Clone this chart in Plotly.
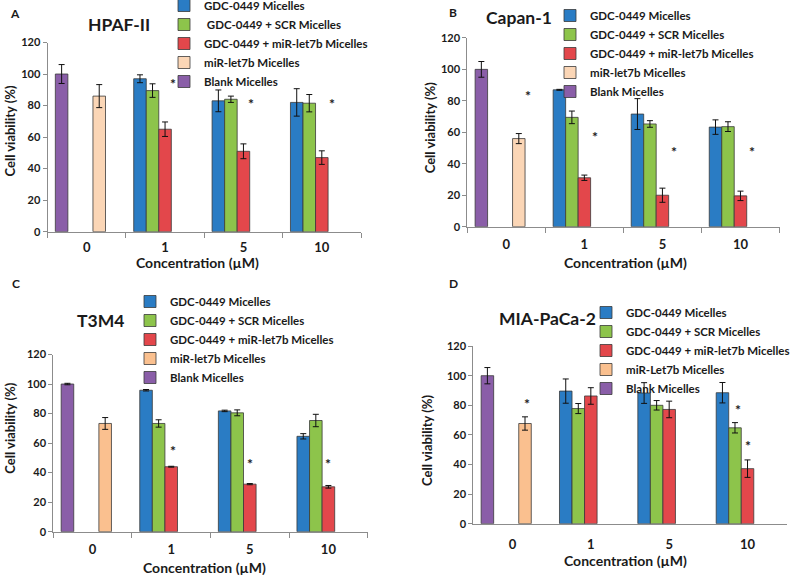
import plotly.graph_objects as go

# ---------------- data ----------------
categories = ["0", "1", "5", "10"]
names_std = ["GDC-0449 Micelles", "GDC-0449 + SCR Micelles",
             "GDC-0449 + miR-let7b Micelles", "miR-let7b Micelles", "Blank Micelles"]
names_A = ["GDC-0449 Micelles", " GDC-0449 + SCR Micelles",
           "GDC-0449 + miR-let7b Micelles", "miR-let7b Micelles", "Blank Micelles"]
names_D = ["GDC-0449 Micelles", "GDC-0449 + SCR Micelles",
           "GDC-0449 + miR-let7b Micelles", "miR-Let7b Micelles", "Blank Micelles"]
titles = ["HPAF-II", "Capan-1", "T3M4", "MIA-PaCa-2"]
letters = ["A", "B", "C", "D"]

# HPAF-II
A_blue = [None, 97, 83, 82];      A_blue_err = [0, 2.5, 6.9, 8.7]
A_green = [None, 89.5, 84, 81.5]; A_green_err = [0, 4.3, 2.0, 5.5]
A_red = [None, 65, 51, 47];       A_red_err = [0, 4.6, 4.7, 4.3]
A_peach = [86, None, None, None]; A_peach_err = [7.3, 0, 0, 0]
A_purple = [100, None, None, None]; A_purple_err = [6, 0, 0, 0]
A_star_cat = [1, 2, 3]; A_star_y = [96, 83, 83]

# Capan-1
B_blue = [None, 87, 71.6, 63.3];  B_blue_err = [0, 0.3, 9.8, 4.6]
B_green = [None, 69.5, 65.3, 63.6]; B_green_err = [0, 4.0, 2.1, 3.1]
B_red = [None, 31.1, 20, 19.6];   B_red_err = [0, 1.7, 4.5, 3.0]
B_peach = [56, None, None, None]; B_peach_err = [3.2, 0, 0, 0]
B_purple = [100, None, None, None]; B_purple_err = [5, 0, 0, 0]
B_star_cat = [0, 1, 2, 3]; B_star_y = [85, 59, 50, 50]

# T3M4
C_blue = [None, 95.8, 81.8, 64.6]; C_blue_err = [0, 0.5, 0.5, 1.8]
C_green = [None, 73.3, 80.5, 75.3]; C_green_err = [0, 2.5, 2.0, 4.2]
C_red = [None, 44, 32.2, 30.4];    C_red_err = [0, 0.3, 0.4, 0.9]
C_peach = [73.3, None, None, None]; C_peach_err = [4, 0, 0, 0]
C_purple = [100, None, None, None]; C_purple_err = [0.5, 0, 0, 0]
C_star_cat = [1, 2, 3]; C_star_y = [57, 48.5, 48.5]

# MIA-PaCa-2
D_blue = [None, 89.6, 88.3, 88.5]; D_blue_err = [0, 8.2, 7.0, 6.9]
D_green = [None, 77.8, 80, 64.8];  D_green_err = [0, 3.4, 3.2, 3.5]
D_red = [None, 86.3, 77.2, 37.2];  D_red_err = [0, 5.6, 5.6, 5.9]
D_peach = [67.7, None, None, None]; D_peach_err = [4.5, 0, 0, 0]
D_purple = [100, None, None, None]; D_purple_err = [5.5, 0, 0, 0]
D_star_cat = [0, 3, 3]; D_star_y = [83, 79, 55]

# ---------------- styling / layout ----------------
W, H = 800, 575
FONT = "Lato"
TXT = "#1a1a1a"
AX = "#8c8c8c"
BLUE, GREEN, RED, PURPLE = "#2a7cc4", "#8dc44b", "#e3474b", "#8a5ea8"
PEACH_LIGHT, PEACH_DARK = "#fbd6b6", "#fac08f"

def px(x):
    return x / W

def py(y):
    return 1 - y / H

# plot boxes in pixels: (left, right, top(120), bottom(0))
boxes = [(47.5, 361, 42.5, 231.7), (467.3, 779.5, 37.9, 226.7),
         (53.3, 367.7, 354.5, 531.7), (473.3, 786.7, 346.1, 523.7)]
title_pos = [(119, 24), (519, 17), (100.5, 320), (547.5, 318.3)]
letter_pos = [(15, 13), (453, 12), (16, 284), (453, 284)]
ytitle_pos = [(9, 131.5), (430, 128.3), (9.7, 428), (427, 440)]
xtitle_pos = [(197, 262.5), (625, 262.5), (205, 567), (625, 560.5)]
legend_pos = [(164, -9), (550, 1), (130, 287), (586, 298)]   # left, top
xlabel_standoff = [4, 6, 6, 9]
star_off = [[0.10, 0.10, 0.13], [0.28, 0.14, 0.145, 0.15],
            [0.02, 0.0, 0.0], [0.185, -0.125, 0.01]]

panels = [
    (names_A, [A_blue, A_green, A_red, A_peach, A_purple],
     [A_blue_err, A_green_err, A_red_err, A_peach_err, A_purple_err],
     PEACH_LIGHT, A_star_cat, A_star_y),
    (names_std, [B_blue, B_green, B_red, B_peach, B_purple],
     [B_blue_err, B_green_err, B_red_err, B_peach_err, B_purple_err],
     PEACH_LIGHT, B_star_cat, B_star_y),
    (names_std, [C_blue, C_green, C_red, C_peach, C_purple],
     [C_blue_err, C_green_err, C_red_err, C_peach_err, C_purple_err],
     PEACH_DARK, C_star_cat, C_star_y),
    (names_D, [D_blue, D_green, D_red, D_peach, D_purple],
     [D_blue_err, D_green_err, D_red_err, D_peach_err, D_purple_err],
     PEACH_DARK, D_star_cat, D_star_y),
]

slots = [0, 1, 2, 3, 0]      # bar slot inside each category group
BW = 0.16

fig = go.Figure()
annotations = []
layout_extra = {}


def label(text, x, y, size, angle=0, ref=("paper", "paper"), yshift=0):
    return dict(text=text, x=x, y=y, xref=ref[0], yref=ref[1], showarrow=False,
                xanchor="center", yanchor="middle", textangle=angle, yshift=yshift,
                font=dict(size=size, color=TXT, family=FONT, weight="bold"))


for i, (names, vals, errs, peach, s_cat, s_y) in enumerate(panels):
    sfx = "" if i == 0 else str(i + 1)
    colors = [BLUE, GREEN, RED, peach, PURPLE]
    leg = "legend" if i == 0 else "legend" + str(i + 1)
    for k in range(5):
        fig.add_trace(go.Bar(
            x=categories, y=vals[k], name=names[k],
            width=BW, offset=-0.4 + BW * slots[k],
            marker=dict(color=colors[k], line=dict(color="#3a3a3a", width=0.8)),
            error_y=dict(type="data", array=errs[k], color="#111111",
                         thickness=1, width=3),
            xaxis="x" + sfx, yaxis="y" + sfx, legend=leg,
        ))
    l, r, t, b = boxes[i]
    layout_extra["xaxis" + sfx] = dict(
        domain=[px(l), px(r)], anchor="y" + sfx, type="category",
        range=[-0.5, 3.5], showline=True, linecolor=AX, linewidth=1,
        ticks="" if i == 3 else "outside", tickson="boundaries",
        ticklen=5, tickcolor=AX, showgrid=False, zeroline=False,
        tickfont=dict(size=13, color=TXT, family=FONT, weight="bold"),
        ticklabelstandoff=xlabel_standoff[i],
    )
    layout_extra["yaxis" + sfx] = dict(
        domain=[py(b), py(t)], anchor="x" + sfx, range=[0, 120],
        tick0=0, dtick=20, showline=True, linecolor=AX, linewidth=1,
        ticks="outside", ticklen=4, tickcolor=AX, showgrid=False,
        zeroline=False,
        tickfont=dict(size=11, color=TXT, family=FONT, weight="bold"),
    )
    lx, ly = legend_pos[i]
    layout_extra[leg] = dict(
        x=px(lx), y=py(ly), xanchor="left", yanchor="top",
        xref="paper", yref="paper", bgcolor="rgba(0,0,0,0)",
        font=dict(size=11.5, color=TXT, family=FONT, weight="bold"),
        traceorder="normal",
    )
    annotations.append(label(titles[i], px(title_pos[i][0]), py(title_pos[i][1]), 17.5))
    annotations.append(label(letters[i], px(letter_pos[i][0]), py(letter_pos[i][1]), 12))
    annotations.append(label("Cell viability (%)", px(ytitle_pos[i][0]),
                             py(ytitle_pos[i][1]), 13, angle=-90))
    annotations.append(label("Concentration (µM)", px(xtitle_pos[i][0]),
                             py(xtitle_pos[i][1]), 14))
    for c, yv, off in zip(s_cat, s_y, star_off[i]):
        annotations.append(label("*", c + off, yv, 14, ref=("x" + sfx, "y" + sfx), yshift=-3))

fig.update_layout(
    width=W, height=H, margin=dict(l=0, r=0, t=0, b=0, autoexpand=False),
    paper_bgcolor="white", plot_bgcolor="white",
    barmode="overlay", font=dict(family=FONT, color=TXT),
    annotations=annotations, **layout_extra,
)

fig.write_html("out.html", config={"displayModeBar": False},
               post_script="document.body.style.margin='0';")
